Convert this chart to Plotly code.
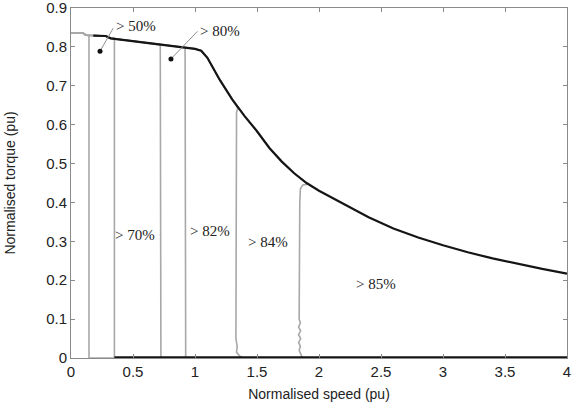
import plotly.graph_objects as go

# Envelope (maximum torque vs speed)
env_speed = [0.0, 0.10, 0.12, 0.28, 0.32, 0.50, 0.70, 0.90, 1.00, 1.05, 1.10, 1.20, 1.30, 1.40,
             1.50, 1.60, 1.70, 1.80, 1.90, 2.00, 2.20, 2.40, 2.60, 2.80, 3.00, 3.20, 3.40,
             3.60, 3.80, 4.00]
env_torque = [0.835, 0.835, 0.830, 0.828, 0.822, 0.815, 0.806, 0.799, 0.795, 0.790, 0.772,
              0.715, 0.665, 0.622, 0.583, 0.540, 0.505, 0.475, 0.450, 0.430, 0.395, 0.362,
              0.333, 0.310, 0.290, 0.272, 0.256, 0.242, 0.229, 0.217]

# Trip curves for each threshold: drop-off profile (speed, torque)
labels = ["> 50%", "> 70%", "> 80%", "> 82%", "> 84%", "> 85%"]
cutoffs = [0.145, 0.35, 0.72, 0.92, 1.345, 1.91]
drop_speed = [
    [0.145, 0.145, 0.15],
    [0.35, 0.35, 0.355],
    [0.72, 0.725, 0.73],
    [0.92, 0.925, 0.93],
    [1.345, 1.335, 1.335, 1.33, 1.335, 1.33, 1.34, 1.335, 1.36, 1.39],
    [1.91, 1.87, 1.85, 1.845, 1.84, 1.85, 1.835, 1.852, 1.835, 1.852, 1.836, 1.85, 1.84, 1.86, 1.87],
]
drop_torque = [
    [0.830, 0.0, 0.0],
    [0.822, 0.0, 0.0],
    [0.805, 0.0, 0.0],
    [0.798, 0.0, 0.0],
    [0.642, 0.632, 0.60, 0.30, 0.10, 0.05, 0.03, 0.015, 0.005, 0.0],
    [0.447, 0.445, 0.435, 0.40, 0.10, 0.09, 0.08, 0.07, 0.06, 0.05, 0.04, 0.03, 0.02, 0.005, 0.0],
]

# Label positions (speed, torque)
label_speed = [0.524, 0.516, 1.20, 1.12, 1.59, 2.46]
label_torque = [0.853, 0.316, 0.842, 0.326, 0.298, 0.190]

# Leader lines: (text-end, dot) for "> 50%" and "> 80%"
leader_from_speed = [0.34, 1.02]
leader_from_torque = [0.848, 0.840]
leader_to_speed = [0.234, 0.806]
leader_to_torque = [0.789, 0.769]

GREY = "#a8a8a8"
fig = go.Figure()

for c, ds, dt in zip(cutoffs, drop_speed, drop_torque):
    xs = [s for s in env_speed if s < c] + ds + [4.0]
    ys = [t for s, t in zip(env_speed, env_torque) if s < c] + dt + [0.0]
    fig.add_trace(go.Scatter(x=xs, y=ys, mode="lines",
                             line=dict(color=GREY, width=1.6), hoverinfo="skip"))

# Black envelope and bottom line
bx = [s for s in env_speed if s >= 0.2]
by = [t for s, t in zip(env_speed, env_torque) if s >= 0.2]
fig.add_trace(go.Scatter(x=[0.18] + bx, y=[0.829] + by, mode="lines",
                         line=dict(color="#151515", width=2.2), hoverinfo="skip"))
fig.add_trace(go.Scatter(x=[0.35, 4.0], y=[0.0, 0.0], mode="lines",
                         line=dict(color="#151515", width=3.5), hoverinfo="skip"))

# Leader lines and dots
for x0, y0, x1, y1 in zip(leader_from_speed, leader_from_torque, leader_to_speed, leader_to_torque):
    fig.add_trace(go.Scatter(x=[x0, x1], y=[y0, y1], mode="lines",
                             line=dict(color="#909090", width=1), hoverinfo="skip"))
fig.add_trace(go.Scatter(x=leader_to_speed, y=leader_to_torque, mode="markers",
                         marker=dict(color="#111111", size=5), hoverinfo="skip"))

for lab, xs, ys in zip(labels, label_speed, label_torque):
    fig.add_annotation(x=xs, y=ys, text=lab, showarrow=False,
                       font=dict(family="Liberation Serif", size=15, color="#222222"))

axis_common = dict(showgrid=False, zeroline=False, showline=True, linecolor="#8a8a8a",
                   linewidth=1, mirror="ticks", ticks="inside", ticklen=4, automargin=False,
                   ticklabeloverflow="allow",
                   tickcolor="#8a8a8a", tickfont=dict(family="Liberation Sans", size=15, color="#222222"))

fig.update_xaxes(range=[0, 4], tickvals=[0, 0.5, 1, 1.5, 2, 2.5, 3, 3.5, 4],
                 ticktext=["0", "0.5", "1", "1.5", "2", "2.5", "3", "3.5", "4"],
                 title=dict(text="Normalised speed (pu)", standoff=10,
                            font=dict(family="Liberation Sans", size=14, color="#222222")),
                 **axis_common)
fig.update_yaxes(range=[0, 0.9], tickvals=[0, 0.1, 0.2, 0.3, 0.4, 0.5, 0.6, 0.7, 0.8, 0.9],
                 ticktext=["0", "0.1", "0.2", "0.3", "0.4", "0.5", "0.6", "0.7", "0.8", "0.9"],
                 title=dict(text="Normalised torque (pu)", standoff=27,
                            font=dict(family="Liberation Sans", size=14, color="#222222")),
                 **axis_common)

fig.update_layout(width=577, height=410, margin=dict(l=71, r=10, t=8, b=52),
                  paper_bgcolor="white", plot_bgcolor="white", showlegend=False)

fig.write_html("out.html", config={"displayModeBar": False},
               post_script="document.body.style.margin='0';")
